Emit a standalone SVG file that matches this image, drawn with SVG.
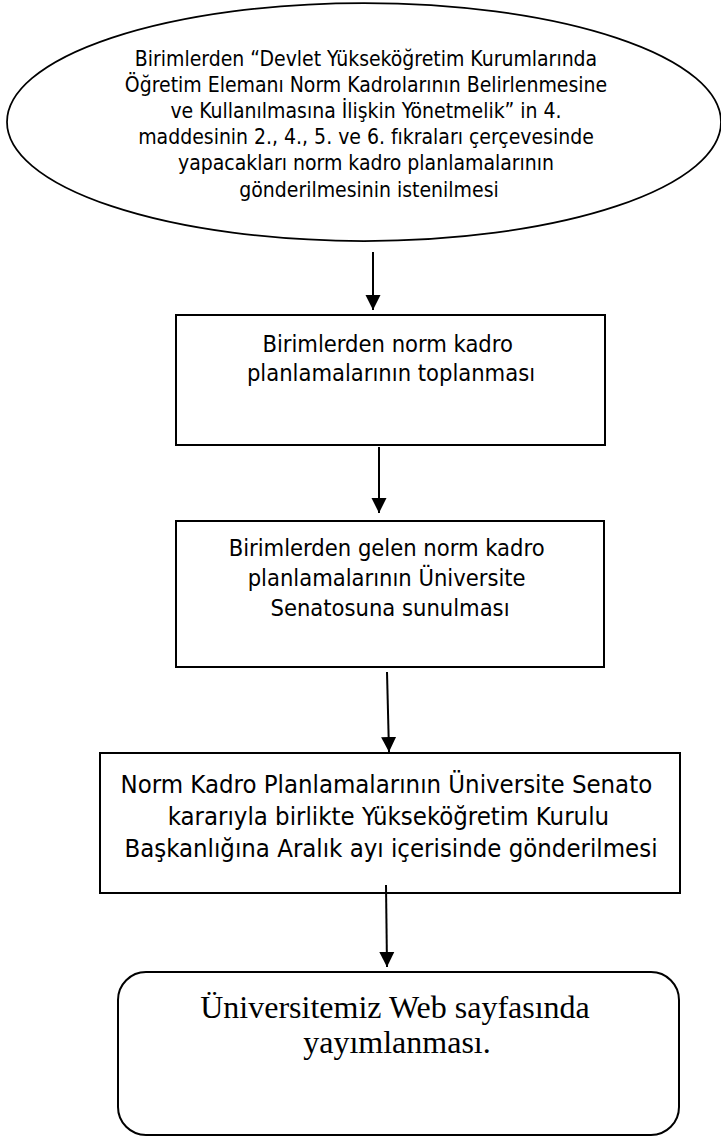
<svg xmlns="http://www.w3.org/2000/svg" width="721" height="1137" viewBox="0 0 721 1137">
<defs>
<style>
.shape{fill:#fff;stroke:#000;stroke-width:2}
.sans{font-family:"DejaVu Sans Condensed","DejaVu Sans",sans-serif;fill:#000;text-anchor:middle}
.serif{font-family:"Liberation Serif","Times New Roman",serif;fill:#000;text-anchor:middle}
.conn{stroke:#000;stroke-width:2;fill:none}
</style>
<marker id="arrow" markerUnits="userSpaceOnUse" markerWidth="16" markerHeight="16" viewBox="0 0 16 16" refX="15" refY="8" orient="auto">
<path d="M0,0.5 L15,8 L0,15.5 Z" fill="#000"/>
</marker>
</defs>
<rect width="721" height="1137" fill="#fff"/>
<g id="start">
<ellipse class="shape" cx="364" cy="122" rx="357" ry="119" style="stroke-width:1.75"/>
<text class="sans" font-size="21" x="369">
<tspan x="369" y="66">Birimlerden “Devlet Yükseköğretim Kurumlarında</tspan>
<tspan x="369" y="92">Öğretim Elemanı Norm Kadrolarının Belirlenmesine</tspan>
<tspan x="369" y="118">ve Kullanılmasına İlişkin Yönetmelik” in 4.</tspan>
<tspan x="369" y="144">maddesinin 2., 4., 5. ve 6. fıkraları çerçevesinde</tspan>
<tspan x="369" y="170">yapacakları norm kadro planlamalarının</tspan>
<tspan x="369" y="197">gönderilmesinin istenilmesi</tspan>
</text>
</g>
<g id="collect">
<rect class="shape" x="176" y="315" width="429" height="130"/>
<text class="sans" font-size="23.5">
<tspan x="391" y="352">Birimlerden norm kadro</tspan>
<tspan x="391" y="381">planlamalarının toplanması</tspan>
</text>
</g>
<g id="senate">
<rect class="shape" x="176" y="521" width="428" height="146"/>
<text class="sans" font-size="23.5">
<tspan x="390" y="556">Birimlerden gelen norm kadro</tspan>
<tspan x="390" y="586">planlamalarının Üniversite</tspan>
<tspan x="390" y="616">Senatosuna sunulması</tspan>
</text>
</g>
<g id="send">
<rect class="shape" x="100" y="753" width="580" height="140"/>
<text class="sans" font-size="25.5">
<tspan x="390" y="793">Norm Kadro Planlamalarının Üniversite Senato</tspan>
<tspan x="392" y="825">kararıyla birlikte Yükseköğretim Kurulu</tspan>
<tspan x="391" y="857">Başkanlığına Aralık ayı içerisinde gönderilmesi</tspan>
</text>
</g>
<g id="publish">
<rect class="shape" x="118" y="972" width="561" height="163" rx="28" ry="28"/>
<text class="serif" font-size="32">
<tspan x="399" y="1018">Üniversitemiz Web sayfasında</tspan>
<tspan x="397" y="1053">yayımlanması.</tspan>
</text>
</g>
<g id="connectors">
<line class="conn" x1="373" y1="252" x2="373" y2="310" marker-end="url(#arrow)"/>
<line class="conn" x1="379" y1="447" x2="379" y2="513" marker-end="url(#arrow)"/>
<line class="conn" x1="387" y1="672" x2="389" y2="752" marker-end="url(#arrow)"/>
<line class="conn" x1="386" y1="885" x2="387" y2="967" marker-end="url(#arrow)"/>
</g>
</svg>
